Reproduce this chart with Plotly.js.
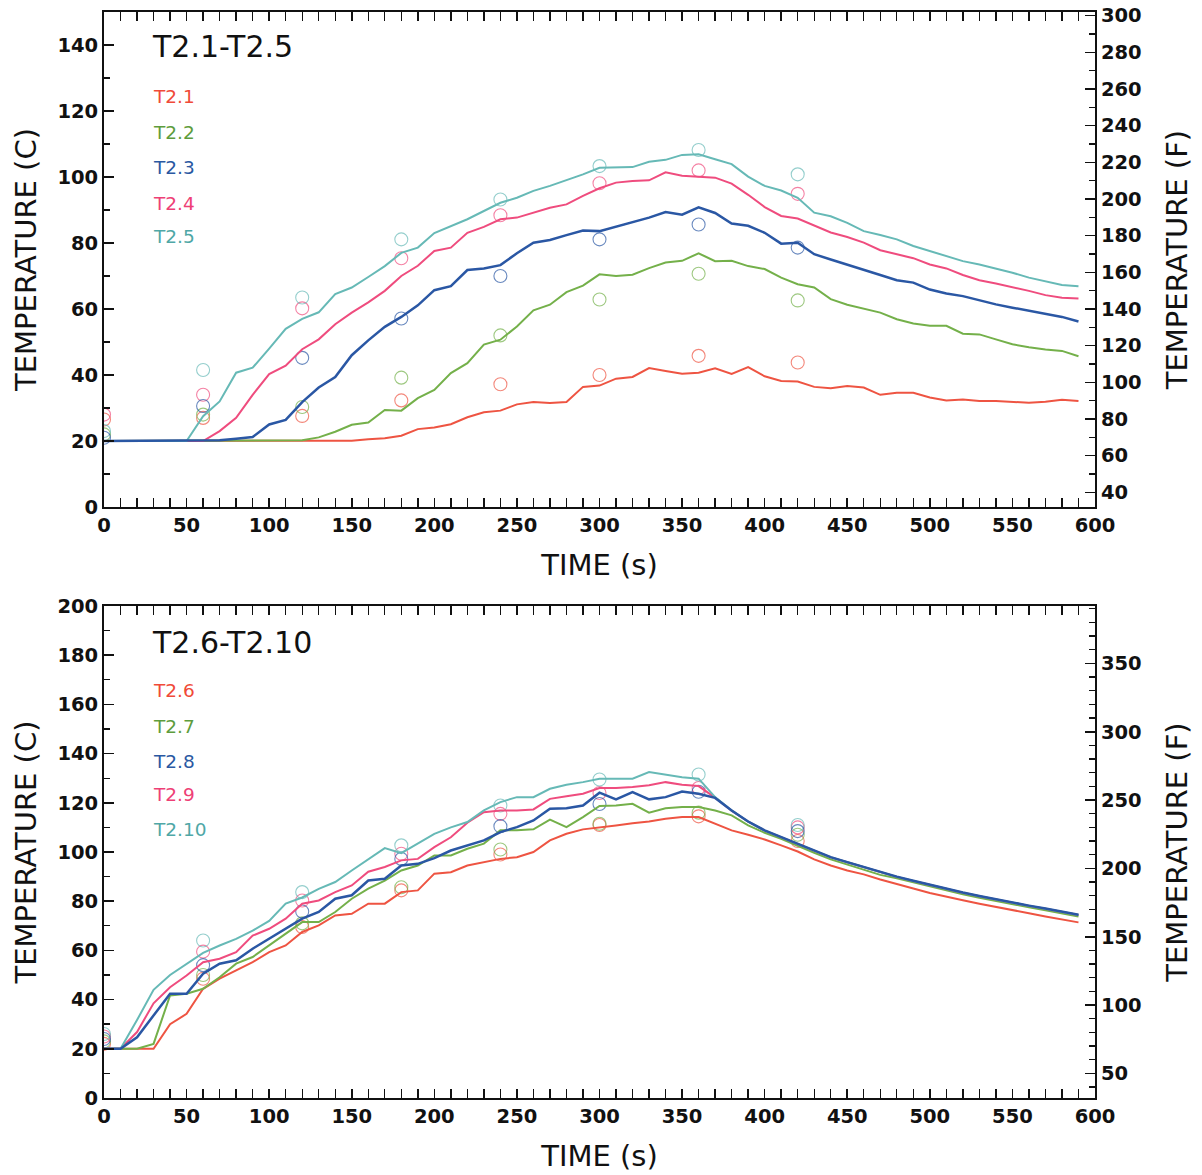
<!DOCTYPE html>
<html>
<head>
<meta charset="utf-8">
<script src="https://cdn.plot.ly/plotly-3.0.1.min.js"></script>
<style>
html,body{margin:0;padding:0;background:#ffffff;}
#chart{width:1202px;height:1175px;}
</style>
</head>
<body>
<div id="chart"></div>
<script>
// ---------- DATA ----------
const timeSim = [0,10,20,30,40,50,60,70,80,90,100,110,120,130,140,150,160,170,180,190,
  200,210,220,230,240,250,260,270,280,290,300,310,320,330,340,350,360,370,380,390,
  400,410,420,430,440,450,460,470,480,490,500,510,520,530,540,550,560,570,580,590];
const timeMeas = [0,60,120,180,240,300,360,420];

// Upper panel: T2.1 - T2.5 (deg C)
const topNames = ["T2.1","T2.2","T2.3","T2.4","T2.5"];
const sim_T2_1 = [20,20,20,20,20,20,20,20,20,20,20,20,20,20,20,
  20.1,20.5,20.8,21.6,23.6,24.1,25.1,27.2,28.7,29.2,
  31.1,31.8,31.5,31.8,36.4,36.8,38.9,39.4,42.1,41.2,
  40.4,40.7,42.0,40.3,42.4,39.6,38.2,38.0,36.4,36.0,
  36.7,36.2,34.0,34.6,34.6,33.2,32.3,32.6,32.1,32.1,
  31.9,31.6,31.9,32.5,32.1];
const sim_T2_2 = [20,20,20,20,20,20,20,20,20,20,20,20,
  20.2,21.1,22.8,24.9,25.6,29.4,29.2,33.0,
  35.5,40.6,43.6,49.2,50.7,54.7,59.6,61.3,65.1,67.1,
  70.5,70.0,70.4,72.4,74.1,74.6,76.9,74.5,74.6,73.0,
  72.1,69.5,67.5,66.5,63.0,61.3,60.2,58.9,56.9,55.6,
  54.9,54.9,52.5,52.3,50.8,49.3,48.4,47.7,47.3,45.7];
const sim_T2_3 = [20,20,20,20,20,20,20,20.2,20.7,21.2,
  25.0,26.4,31.8,36.2,39.4,46.0,50.5,54.6,57.6,61.1,
  65.7,66.9,71.8,72.3,73.3,76.9,80.1,80.9,82.4,83.8,
  83.6,85.0,86.5,87.7,89.4,88.6,90.8,89.1,85.9,85.2,
  83.1,79.8,80.1,76.6,75.0,73.5,72.0,70.3,68.7,68.0,
  65.9,64.7,63.9,62.6,61.4,60.4,59.4,58.6,57.6,56.2];
const sim_T2_4 = [20,20,20,20,20,20,20,23.0,27.0,34.0,
  40.3,42.8,47.8,50.8,55.4,58.9,62.0,65.5,70.0,73.1,
  77.6,78.6,83.1,84.9,87.2,87.7,89.2,90.7,91.7,94.3,
  96.6,98.3,98.8,99.0,101.4,100.4,100.1,99.8,98.0,94.6,
  90.9,88.2,87.4,85.2,83.2,81.8,80.1,77.8,76.6,75.4,
  73.5,72.3,70.3,68.7,67.7,66.7,65.5,64.2,63.4,63.2];
const sim_T2_5 = [20,20,20,20,20,20,27.5,32.0,40.7,42.2,
  48.0,54.0,57.0,59.0,64.5,66.5,69.7,73.0,77.0,78.6,
  83.0,85.0,87.2,89.7,92.2,93.7,95.8,97.3,99.0,100.8,
  102.8,102.8,103.0,104.6,105.2,106.7,106.9,105.4,103.9,100.1,
  97.3,95.9,93.7,89.2,88.1,86.1,83.6,82.4,81.1,79.1,
  77.6,76.1,74.5,73.5,72.3,71.0,69.5,68.3,67.3,66.9];
const meas_T2_1 = [26.5,27.0,27.6,32.3,37.2,40.0,45.8,43.8];
const meas_T2_2 = [22.0,28.0,30.3,39.2,52.0,62.9,70.7,62.6];
const meas_T2_3 = [21.0,30.6,45.2,57.1,70.0,81.1,85.6,78.6];
const meas_T2_4 = [28.0,34.0,60.2,75.4,88.4,98.1,102.0,94.9];
const meas_T2_5 = [23.0,41.5,63.5,81.1,93.2,103.3,108.2,100.8];

// Lower panel: T2.6 - T2.10 (deg C)
const botNames = ["T2.6","T2.7","T2.8","T2.9","T2.10"];
const sim_T2_6 = [20,20,20,20,30.0,34.2,44.4,48.5,51.9,55.2,
  59.3,62.0,67.5,70.2,74.2,74.9,79.0,79.0,83.7,84.4,
  91.2,91.8,94.5,95.9,97.2,97.9,100.0,104.7,107.4,109.2,
  109.9,110.8,111.7,112.4,113.5,114.2,114.2,111.5,108.8,107.0,
  105.1,102.7,100.2,97.0,94.5,92.5,90.9,88.8,87.1,85.2,
  83.3,82.0,80.4,79.0,77.6,76.3,75.1,73.8,72.6,71.4];
const sim_T2_7 = [20,20,20,22.0,41.7,42.4,44.4,49.1,54.6,57.3,
  62.0,66.8,71.5,71.5,75.6,81.0,85.1,88.4,92.5,94.5,
  98.6,98.6,101.3,103.4,108.8,108.8,109.2,113.2,110.1,114.2,
  118.7,118.9,119.6,116.0,117.8,118.3,118.3,116.9,114.9,110.8,
  107.8,105.4,102.4,99.7,97.0,94.8,92.8,90.7,89.3,87.6,
  85.9,84.4,82.8,81.4,80.0,78.7,77.5,76.3,75.1,73.8];
const sim_T2_8 = [20,20,24.7,33.6,42.4,42.4,50.5,54.6,56.0,60.7,
  64.7,68.8,72.9,75.6,81.0,82.4,88.4,89.1,94.5,95.2,
  97.5,100.6,102.7,104.7,108.1,110.1,112.8,117.6,117.8,118.9,
  124.1,121.4,124.3,121.4,122.3,124.6,123.7,122.0,116.9,112.4,
  108.8,106.1,103.3,100.6,97.9,95.9,93.9,91.8,90.0,88.3,
  86.6,85.1,83.5,82.1,80.7,79.4,78.2,77.0,75.8,74.5];
const sim_T2_9 = [20,20,26.8,38.5,45.0,49.8,55.2,56.6,59.3,66.0,
  68.8,72.9,79.0,80.3,83.7,86.4,92.0,93.9,96.6,97.2,
  102.0,106.0,111.9,116.2,116.9,116.9,117.3,121.6,122.7,123.7,
  126.0,126.0,126.4,127.1,128.4,127.3,126.8,122.1,116.8,112.3,
  108.7,106.0,103.2,100.5,97.8,95.8,93.8,91.7,89.9,88.2,
  86.5,85.0,83.4,82.0,80.6,79.3,78.1,76.9,75.7,74.4];
const sim_T2_10 = [20,20,31.7,44.0,50.0,54.5,59.0,62.0,64.7,68.0,
  72.0,79.0,81.5,85.0,87.8,92.5,97.2,101.6,99.5,103.4,
  107.4,110.0,112.2,116.9,120.3,122.3,122.3,125.7,127.3,128.4,
  129.8,129.8,129.8,132.5,131.4,130.4,129.8,122.3,116.9,112.3,
  108.7,106.0,103.2,100.5,97.8,95.8,93.8,91.7,89.9,88.2,
  86.5,85.0,83.4,82.0,80.6,79.3,78.1,76.9,75.7,74.4];
const meas_T2_6 = [22.0,48.5,69.5,84.4,99.0,111.0,114.5,104.5];
const meas_T2_7 = [23.0,50.0,71.0,85.7,101.0,111.5,116.0,107.0];
const meas_T2_8 = [24.0,54.0,75.8,97.2,110.5,119.5,124.5,108.5];
const meas_T2_9 = [25.0,59.5,80.3,99.3,115.5,124.0,126.0,110.0];
const meas_T2_10 = [26.0,64.0,83.7,102.7,118.9,129.5,131.5,111.0];

const panelTitles = ["T2.1-T2.5","T2.6-T2.10"];

// ---------- STYLE ----------
const lineColors = ["#ee5442","#74b04a","#2a57a4","#ef4c7e","#66b9b6"];
const labelColors = ["#f04a38","#5e9c3c","#2a58a2","#ee3f76","#4fa7a6"];
const FONT = "DejaVu Sans, Arial, sans-serif";

// pixel -> paper helpers (plot area spans x 104..1095, y 12..1098)
const PX0 = 104, PX1 = 1095, PY0 = 12, PY1 = 1098;
const px = v => (v - PX0) / (PX1 - PX0);
const py = v => (PY1 - v) / (PY1 - PY0);

const topSim = [sim_T2_1, sim_T2_2, sim_T2_3, sim_T2_4, sim_T2_5];
const topMeas = [meas_T2_1, meas_T2_2, meas_T2_3, meas_T2_4, meas_T2_5];
const botSim = [sim_T2_6, sim_T2_7, sim_T2_8, sim_T2_9, sim_T2_10];
const botMeas = [meas_T2_6, meas_T2_7, meas_T2_8, meas_T2_9, meas_T2_10];

const toF = c => c * 9 / 5 + 32;
const drawOrder = [0, 1, 3, 4, 2];
const traces = [];
function addPanel(sims, meass, names, xa, ya, yaF) {
  drawOrder.forEach(i => {
    traces.push({
      type: "scatter", mode: "markers", x: timeMeas, y: meass[i], xaxis: xa, yaxis: ya,
      name: names[i] + " meas", showlegend: false, hoverinfo: "skip",
      marker: {symbol: "circle-open", size: 13, color: lineColors[i], opacity: 0.7, line: {width: 1.1, color: lineColors[i]}}
    });
  });
  drawOrder.forEach(i => {
    traces.push({
      type: "scatter", mode: "lines", x: timeSim, y: sims[i], xaxis: xa, yaxis: ya,
      name: names[i], showlegend: false,
      line: {color: lineColors[i], width: i === 2 ? 2.5 : 2.0}
    });
  });
  // same first series in deg F on the right-hand axis (invisible, keeps the F axis drawn)
  traces.push({
    type: "scatter", mode: "lines", x: timeSim, y: sims[0].map(toF), xaxis: xa, yaxis: yaF,
    name: names[0] + " (F)", showlegend: false, hoverinfo: "skip", opacity: 0,
    line: {color: "rgba(0,0,0,0)", width: 0}
  });
}
addPanel(topSim, topMeas, topNames, "x", "y", "y3");
addPanel(botSim, botMeas, botNames, "x2", "y2", "y4");

const tickFont = {family: FONT, size: 19.5, color: "#111", weight: "bold"};
const titleFont = {family: FONT, size: 29, color: "#111"};

function xAxis(anchor) {
  return {
    anchor: anchor, domain: [0, 1], range: [0, 600], tick0: 0, dtick: 50,
    ticks: "inside", ticklen: 9, tickwidth: 1.6, tickcolor: "#111",
    minor: {dtick: 10, ticks: "inside", ticklen: 5, tickwidth: 1.4, tickcolor: "#111"},
    showline: true, linewidth: 2, linecolor: "#111", mirror: "allticks",
    showgrid: false, zeroline: false, tickfont: tickFont,
    title: {text: "TIME (s)", font: {family: FONT, size: 29, color: "#111"}, standoff: 18}
  };
}
function yLeft(anchor, domain, range) {
  return {
    anchor: anchor, domain: domain, range: range, tick0: 0, dtick: 20,
    ticks: "inside", ticklen: 10, tickwidth: 1.6, tickcolor: "#111",
    minor: {dtick: 10, ticks: "inside", ticklen: 6, tickwidth: 1.4, tickcolor: "#111"},
    showline: true, linewidth: 2, linecolor: "#111", mirror: false,
    showgrid: false, zeroline: false, tickfont: tickFont,
    title: {text: "TEMPERATURE (C)", font: titleFont, standoff: 12}
  };
}
function yRight(anchor, over, range, dtick) {
  return {
    anchor: anchor, overlaying: over, side: "right", range: range, tick0: 0, dtick: dtick,
    ticks: "inside", ticklen: 10, tickwidth: 1.6, tickcolor: "#111",
    minor: {dtick: 10, ticks: "inside", ticklen: 6, tickwidth: 1.4, tickcolor: "#111"},
    showline: true, linewidth: 2, linecolor: "#111",
    showgrid: false, zeroline: false, tickfont: tickFont,
    title: {text: "TEMPERATURE (F)", font: titleFont, standoff: 26}
  };
}

const annotations = [];
function addLabels(title, names, titleY, labelYs) {
  annotations.push({xref: "paper", yref: "paper", x: px(150), y: py(titleY), xanchor: "left", yanchor: "middle",
    text: title, showarrow: false, font: {family: FONT, size: 30, color: "#111"}});
  names.forEach((n, i) => annotations.push({xref: "paper", yref: "paper", x: px(151), y: py(labelYs[i]),
    xanchor: "left", yanchor: "middle", text: n, showarrow: false,
    font: {family: FONT, size: 18.5, color: labelColors[i]}}));
}
addLabels(panelTitles[0], topNames, 47, [96, 132, 167, 203, 237]);
addLabels(panelTitles[1], botNames, 642, [690, 726, 761, 794, 829]);

const layout = {
  width: 1202, height: 1175,
  margin: {l: PX0, r: 1202 - PX1, t: PY0, b: 1175 - PY1},
  paper_bgcolor: "#ffffff", plot_bgcolor: "#ffffff",
  showlegend: false,
  font: {family: FONT, color: "#111"},
  xaxis: xAxis("y"),
  yaxis: yLeft("x", [py(507), 1], [0, 150]),
  yaxis3: yRight("x", "y", [32, 302], 20),
  xaxis2: xAxis("y2"),
  yaxis2: yLeft("x2", [0, py(606)], [0, 200]),
  yaxis4: yRight("x2", "y2", [32, 392], 50),
  annotations: annotations
};

Plotly.newPlot("chart", traces, layout, {staticPlot: true, displayModeBar: false});
</script>
</body>
</html>
